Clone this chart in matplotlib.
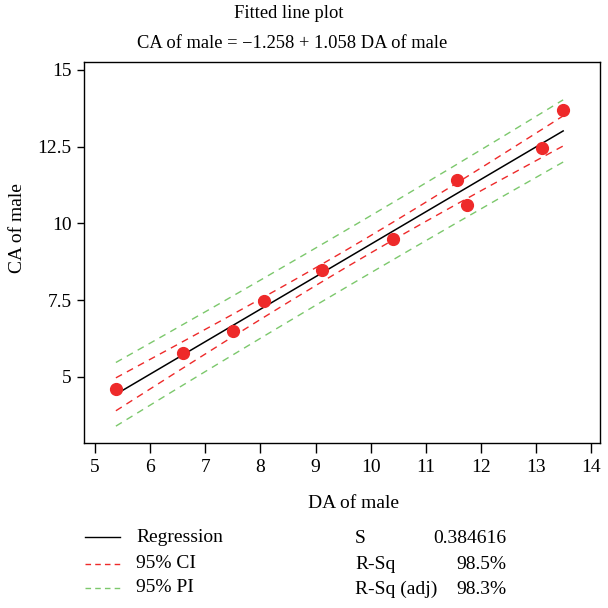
import numpy as np
import matplotlib
matplotlib.use("Agg")
import matplotlib.pyplot as plt
from matplotlib.lines import Line2D

# DA / CA measurements (male)
da_male = [5.38, 6.60, 7.51, 8.07, 9.12, 10.40, 11.56, 11.75, 13.10, 13.49]
ca_male = [4.61, 5.77, 6.51, 7.49, 8.47, 9.51, 11.41, 10.60, 12.45, 13.69]

# fit summary
b0, b1 = -1.258, 1.058
s_fit = 0.384616
r_sq, r_sq_adj = 98.5, 98.3
t_crit = 2.306  # t(0.975, df=8)

x_ticks = [5, 6, 7, 8, 9, 10, 11, 12, 13, 14]
y_ticks = [5, 7.5, 10, 12.5, 15]
y_ticklabels = ["5", "7.5", "10", "12.5", "15"]

plt.rcParams["font.family"] = ["Liberation Serif", "DejaVu Serif"]
plt.rcParams["font.size"] = 14

RED = "#ee2a2a"
GREEN = "#7cc86c"

x = np.array(da_male); y = np.array(ca_male)
n = len(x); xbar = x.mean(); sxx = ((x - xbar) ** 2).sum()
xs = np.linspace(x.min(), x.max(), 200)
yhat = b0 + b1 * xs
se_mean = s_fit * np.sqrt(1 / n + (xs - xbar) ** 2 / sxx)
se_pred = s_fit * np.sqrt(1 + 1 / n + (xs - xbar) ** 2 / sxx)

fig = plt.figure(figsize=(6.08, 6.08), dpi=100)
ax = fig.add_axes([0.138, 0.271, 0.849, 0.627])

ax.plot(xs, yhat, color="black", lw=1.1)
ax.plot(xs, yhat + t_crit * se_mean, color=RED, lw=1.0, ls=(0, (5, 4)))
ax.plot(xs, yhat - t_crit * se_mean, color=RED, lw=1.0, ls=(0, (5, 4)))
ax.plot(xs, yhat + t_crit * se_pred, color=GREEN, lw=1.0, ls=(0, (5, 4)))
ax.plot(xs, yhat - t_crit * se_pred, color=GREEN, lw=1.0, ls=(0, (5, 4)))
ax.plot(x, y, "o", color=RED, ms=8.5, mec=RED, zorder=5)

ax.set_xlim(4.80, 14.16)
ax.set_ylim(2.84, 15.26)
ax.set_xticks(x_ticks)
ax.set_yticks(y_ticks)
ax.set_yticklabels(y_ticklabels)
ax.tick_params(direction="out", width=1, top=False, right=False, pad=4)
ax.tick_params(axis="x", length=7.5)
ax.tick_params(axis="y", length=5)
for sp in ax.spines.values():
    sp.set_linewidth(1.0)
ax.set_xlabel("DA of male")
ax.set_ylabel("CA of male")
ax.xaxis.set_label_coords(0.523, -0.136)
ax.yaxis.set_label_coords(-0.112, 0.564)

fig.text(0.475, 0.977, "Fitted line plot", ha="center", va="center", fontsize=13.3)
fig.text(0.48, 0.928, f"CA of male = \u2212{abs(b0):.3f} + {b1:.3f} DA of male",
         ha="center", va="center", fontsize=13.3)

# legend + fit statistics under the axes
rows_y = [0.116, 0.073, 0.033]
items = [("Regression", "black", "-"), ("95% CI", RED, (0, (4, 3))), ("95% PI", GREEN, (0, (4, 3)))]
for yy, (lab, col, ls) in zip(rows_y, items):
    fig.add_artist(Line2D([0.14, 0.197], [yy, yy], color=col, ls=ls, lw=1.0,
                          transform=fig.transFigure))
    fig.text(0.224, yy, lab, ha="left", va="center")

stats = [("S", f"{s_fit:.6f}"), ("R-Sq", f"{r_sq:.1f}%"), ("R-Sq (adj)", f"{r_sq_adj:.1f}%")]
for yy, (k, v) in zip(rows_y, stats):
    fig.text(0.584, yy - 0.002, k, ha="left", va="center")
    fig.text(0.833, yy - 0.002, v, ha="right", va="center")

fig.savefig("out.png", dpi=100)
